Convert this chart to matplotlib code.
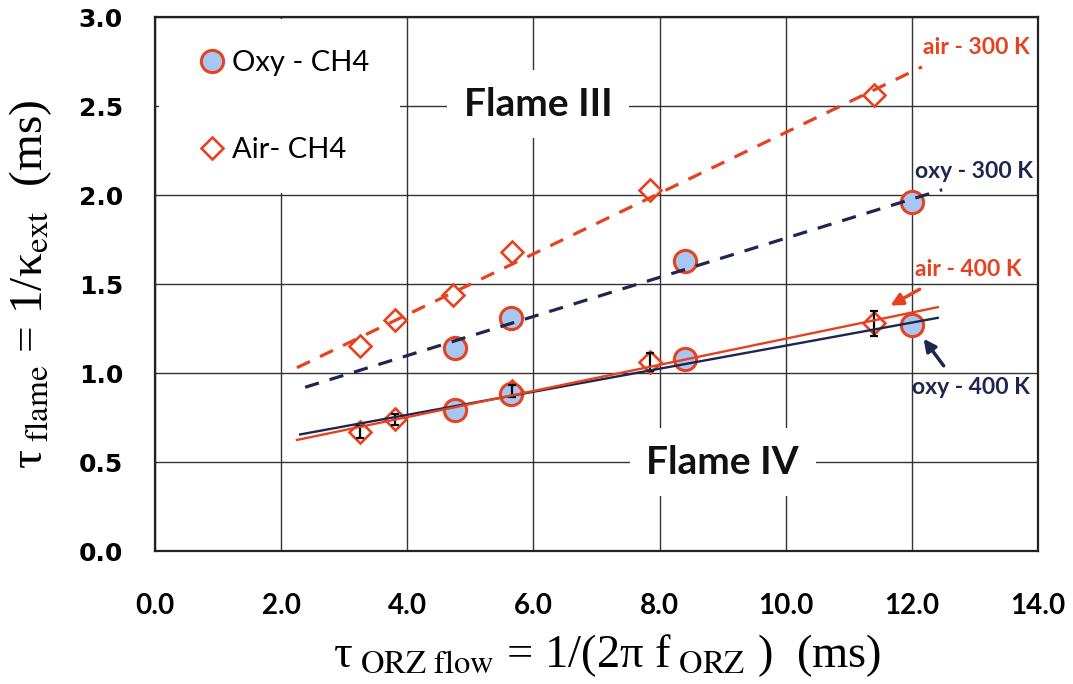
import matplotlib
matplotlib.use("Agg")
import matplotlib.pyplot as plt
from matplotlib.patches import Rectangle

# ---------------- data ----------------
air_x = [3.25, 3.8, 4.72, 5.66, 7.85, 11.4]
air300_y = [1.15, 1.30, 1.44, 1.68, 2.03, 2.56]

oxy300_x = [4.76, 5.65, 8.4, 12.0]
oxy300_y = [1.14, 1.31, 1.63, 1.96]

air400_x = [3.25, 3.8, 5.66, 7.85, 11.4]
air400_y = [0.67, 0.74, 0.90, 1.06, 1.28]
air400_err = [0.035, 0.03, 0.035, 0.05, 0.07]

oxy400_x = [4.76, 5.65, 8.4, 12.0]
oxy400_y = [0.79, 0.88, 1.08, 1.27]

# linear trend lines: (x start, x end) and (y start, y end)
fit_air300_x = [2.25, 12.16]
fit_air300_y = [1.03, 2.72]
fit_oxy300_x = [2.38, 12.48]
fit_oxy300_y = [0.92, 2.03]
fit_air400_x = [2.25, 12.41]
fit_air400_y = [0.624, 1.37]
fit_oxy400_x = [2.30, 12.41]
fit_oxy400_y = [0.655, 1.31]

x_ticks = [0, 2, 4, 6, 8, 10, 12, 14]
x_ticklabels = ["0.0", "2.0", "4.0", "6.0", "8.0", "10.0", "12.0", "14.0"]
y_ticks = [0.0, 0.5, 1.0, 1.5, 2.0, 2.5, 3.0]
y_ticklabels = ["0.0", "0.5", "1.0", "1.5", "2.0", "2.5", "3.0"]

legend_labels = ["Oxy - CH4", "Air- CH4"]

# ---------------- style ----------------
RED = "#e6421f"
NAVY = "#1e2650"
FILL = "#a8c6f2"

plt.rcParams["mathtext.fontset"] = "stix"

fig = plt.figure(figsize=(10.73, 6.84), dpi=100)
ax = fig.add_axes([0.1445, 0.1944, 0.8229, 0.7807])

ax.set_xlim(0, 14)
ax.set_ylim(0, 3.0)
ax.set_xticks(x_ticks)
ax.set_xticklabels(x_ticklabels, fontfamily="Lato", fontweight="bold", fontsize=20)
ax.set_yticks(y_ticks)
ax.set_yticklabels(y_ticklabels, fontfamily="DejaVu Sans", fontweight="bold", fontsize=18)
ax.tick_params(axis="both", length=0)
ax.tick_params(axis="x", pad=30)
ax.tick_params(axis="y", pad=23)
ax.grid(True, color="#333333", linewidth=1.0)
for s in ax.spines.values():
    s.set_linewidth(1.6)
    s.set_color("#222222")

# markers
ax.plot(air_x, air300_y, linestyle="none", marker="D", markersize=11.5,
        markerfacecolor="white", markeredgecolor=RED, markeredgewidth=1.9, zorder=3)
ax.plot(oxy300_x, oxy300_y, linestyle="none", marker="o", markersize=16,
        markerfacecolor=FILL, markeredgecolor=RED, markeredgewidth=2.2, zorder=3)
ax.plot(air400_x, air400_y, linestyle="none", marker="D", markersize=11.5,
        markerfacecolor="white", markeredgecolor=RED, markeredgewidth=1.9, zorder=3)
ax.plot(oxy400_x, oxy400_y, linestyle="none", marker="o", markersize=16,
        markerfacecolor=FILL, markeredgecolor=RED, markeredgewidth=2.2, zorder=3)
ax.errorbar(air400_x, air400_y, yerr=air400_err, fmt="none", ecolor="black",
            elinewidth=1.6, capsize=3, capthick=1.6, zorder=4)

# trend lines
ax.plot(fit_air300_x, fit_air300_y, color=RED, linewidth=2.3, dashes=(4.5, 3.5), zorder=5)
ax.plot(fit_oxy300_x, fit_oxy300_y, color=NAVY, linewidth=2.3, dashes=(4.5, 3.5), zorder=5)
ax.plot(fit_oxy400_x, fit_oxy400_y, color=NAVY, linewidth=1.7, zorder=5)
ax.plot(fit_air400_x, fit_air400_y, color=RED, linewidth=1.7, zorder=5)

# annotations
lab_kw = dict(fontfamily="Lato", fontweight="bold", fontsize=16.5, va="center", ha="left", zorder=6)
ax.text(12.18, 2.83, "air - 300 K", color=RED, **lab_kw)
ax.text(12.05, 2.13, "oxy - 300 K", color=NAVY, **lab_kw)
ax.text(12.05, 1.58, "air - 400 K", color=RED, **lab_kw)
ax.text(12.0, 0.92, "oxy - 400 K", color=NAVY, **lab_kw)

ax.annotate("", xy=(11.62, 1.371), xytext=(12.16, 1.478),
            arrowprops=dict(arrowstyle="-|>", color=RED, lw=2.5, mutation_scale=18), zorder=6)
ax.annotate("", xy=(12.16, 1.205), xytext=(12.53, 1.028),
            arrowprops=dict(arrowstyle="-|>", color=NAVY, lw=2.5, mutation_scale=18), zorder=6)

box = dict(facecolor="white", edgecolor="none", pad=12)
ax.text(6.07, 2.51, "Flame III", fontfamily="Lato", fontweight="bold", fontsize=28,
        ha="center", va="center", color="#111111", bbox=box, zorder=2.5)
ax.text(9.0, 0.50, "Flame IV", fontfamily="Lato", fontweight="bold", fontsize=28,
        ha="center", va="center", color="#111111", bbox=box, zorder=2.5)

# legend with white background
ax.add_patch(Rectangle((0.004, 0.67), 0.273, 0.326, transform=ax.transAxes,
                       facecolor="white", edgecolor="none", zorder=2.2))
h1, = ax.plot([], [], linestyle="none", marker="o", markersize=16,
              markerfacecolor=FILL, markeredgecolor=RED, markeredgewidth=2.2)
h2, = ax.plot([], [], linestyle="none", marker="D", markersize=11.5,
              markerfacecolor="white", markeredgecolor=RED, markeredgewidth=1.9)
leg = ax.legend([h1, h2], legend_labels, loc="upper left", bbox_to_anchor=(0.038, 0.96),
                frameon=False, prop={"family": "Lato", "size": 21}, handlelength=0.8,
                handletextpad=0.3, labelspacing=2.1, numpoints=1, borderaxespad=0)
leg.set_zorder(7)

ax.set_xlabel("τ$_{\\mathrm{\\ ORZ\\ flow}}$ = 1/(2π f$_{\\mathrm{\\ ORZ}}$ )  (ms)",
              fontfamily="Liberation Serif", fontsize=33.5, labelpad=10)
ax.xaxis.set_label_coords(0.512, -0.13, transform=None) if False else None
ax.xaxis.label.set_x(0.512)
ax.set_ylabel("τ$_{\\mathrm{\\ flame}}$ = 1/κ$_{\\mathrm{ext}}$  (ms)",
              fontfamily="Liberation Serif", fontsize=34, labelpad=18)

fig.savefig("out.png", dpi=100)
